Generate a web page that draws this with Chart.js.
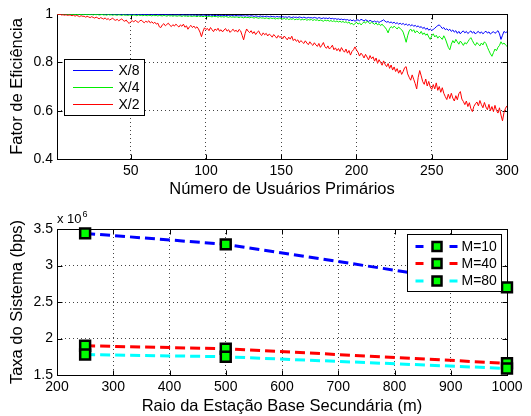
<!DOCTYPE html>
<html>
<head>
<meta charset="utf-8">
<script src="https://cdn.jsdelivr.net/npm/chart.js@4"></script>
<style>
html,body{margin:0;padding:0;background:#fff;width:531px;height:416px;overflow:hidden;}
#c1{position:absolute;left:0;top:0;}
#c2{position:absolute;left:0;top:200px;}
</style>
</head>
<body>
<canvas id="c1" width="531" height="200"></canvas>
<canvas id="c2" width="531" height="216"></canvas>
<script>
// ---------- Top chart data ----------
const users = [];
for (let i = 1; i <= 300; i++) users.push(i);

const effX8 = [
1.000,1.000,1.000,0.999,1.000,1.000,0.999,1.000,1.000,0.999,
1.000,0.999,1.000,1.000,0.999,1.000,0.999,0.999,1.000,0.999,
0.999,1.000,0.999,0.999,1.000,0.999,0.998,0.999,1.000,0.999,
0.998,0.999,0.999,0.998,0.999,0.998,0.999,0.999,0.998,0.999,
0.998,0.999,0.998,0.998,0.999,0.998,0.997,0.999,0.998,0.998,
0.997,0.998,0.998,0.997,0.999,0.997,0.998,0.997,0.998,0.997,
0.998,0.997,0.996,0.998,0.997,0.997,0.996,0.998,0.997,0.996,
0.997,0.996,0.998,0.996,0.997,0.996,0.997,0.995,0.997,0.996,
0.996,0.997,0.995,0.996,0.997,0.995,0.996,0.995,0.997,0.995,
0.996,0.995,0.996,0.994,0.996,0.995,0.994,0.996,0.995,0.994,
0.995,0.994,0.996,0.994,0.995,0.993,0.995,0.994,0.993,0.995,
0.994,0.993,0.995,0.993,0.994,0.992,0.994,0.993,0.992,0.994,
0.993,0.992,0.994,0.992,0.993,0.991,0.993,0.992,0.991,0.993,
0.992,0.990,0.992,0.991,0.989,0.992,0.990,0.991,0.989,0.991,
0.990,0.988,0.991,0.989,0.990,0.987,0.990,0.988,0.989,0.987,
0.989,0.987,0.988,0.986,0.989,0.987,0.985,0.988,0.986,0.987,
0.985,0.988,0.986,0.984,0.987,0.985,0.983,0.986,0.984,0.985,
0.983,0.986,0.984,0.982,0.985,0.983,0.981,0.984,0.982,0.983,
0.981,0.984,0.980,0.982,0.979,0.981,0.978,0.980,0.977,0.979,
0.976,0.978,0.975,0.977,0.973,0.976,0.972,0.975,0.970,0.974,
0.976,0.972,0.978,0.975,0.971,0.976,0.973,0.969,0.974,0.970,
0.967,0.971,0.966,0.970,0.965,0.969,0.972,0.976,0.970,0.966,
0.969,0.964,0.967,0.962,0.966,0.960,0.964,0.958,0.962,0.957,
0.961,0.955,0.959,0.953,0.957,0.951,0.956,0.949,0.953,0.947,
0.951,0.944,0.948,0.940,0.945,0.936,0.942,0.933,0.938,0.932,
0.936,0.941,0.947,0.952,0.955,0.948,0.940,0.944,0.935,0.939,
0.932,0.937,0.928,0.934,0.925,0.931,0.920,0.928,0.918,0.926,
0.930,0.922,0.928,0.919,0.925,0.930,0.921,0.927,0.917,0.924,
0.928,0.920,0.926,0.918,0.924,0.929,0.921,0.926,0.917,0.923,
0.927,0.920,0.925,0.931,0.918,0.895,0.912,0.928,0.923,0.926
];

const effX4 = [
1.000,1.000,0.999,1.000,0.999,0.999,1.000,0.998,0.999,0.999,
0.998,0.999,0.998,0.999,0.997,0.999,0.998,0.997,0.999,0.998,
0.997,0.998,0.997,0.999,0.996,0.998,0.997,0.998,0.996,0.997,
0.998,0.996,0.997,0.995,0.998,0.996,0.997,0.995,0.997,0.996,
0.995,0.997,0.996,0.994,0.997,0.995,0.996,0.994,0.996,0.995,
0.994,0.996,0.995,0.993,0.996,0.994,0.995,0.993,0.995,0.994,
0.993,0.995,0.994,0.992,0.995,0.993,0.994,0.992,0.994,0.993,
0.992,0.994,0.993,0.991,0.994,0.992,0.993,0.991,0.993,0.992,
0.991,0.993,0.992,0.990,0.993,0.991,0.992,0.990,0.992,0.991,
0.990,0.992,0.991,0.989,0.992,0.990,0.991,0.989,0.991,0.990,
0.989,0.991,0.990,0.988,0.991,0.989,0.990,0.987,0.990,0.988,
0.989,0.987,0.990,0.988,0.986,0.989,0.987,0.988,0.986,0.988,
0.987,0.985,0.988,0.986,0.984,0.987,0.985,0.986,0.984,0.987,
0.985,0.983,0.986,0.984,0.982,0.985,0.983,0.984,0.981,0.984,
0.982,0.980,0.984,0.981,0.983,0.979,0.982,0.980,0.983,0.981,
0.979,0.982,0.978,0.981,0.977,0.980,0.978,0.981,0.976,0.979,
0.977,0.980,0.975,0.978,0.976,0.979,0.974,0.977,0.975,0.978,
0.973,0.977,0.974,0.976,0.972,0.975,0.973,0.970,0.975,0.972,
0.974,0.970,0.973,0.969,0.972,0.968,0.971,0.967,0.970,0.966,
0.969,0.965,0.968,0.963,0.967,0.958,0.962,0.955,0.960,0.966,
0.958,0.963,0.955,0.961,0.968,0.962,0.970,0.965,0.960,0.966,
0.962,0.957,0.963,0.955,0.960,0.952,0.958,0.950,0.945,0.935,
0.922,0.940,0.948,0.942,0.950,0.944,0.938,0.946,0.940,0.935,
0.925,0.905,0.883,0.910,0.930,0.938,0.928,0.935,0.922,0.930,
0.925,0.918,0.928,0.915,0.922,0.912,0.918,0.905,0.895,0.910,
0.918,0.905,0.912,0.900,0.908,0.902,0.895,0.910,0.898,0.880,
0.862,0.852,0.875,0.890,0.880,0.895,0.885,0.875,0.888,0.880,
0.870,0.882,0.876,0.885,0.895,0.902,0.890,0.878,0.870,0.882,
0.875,0.868,0.880,0.872,0.885,0.878,0.862,0.848,0.835,0.825,
0.840,0.855,0.848,0.862,0.870,0.885,0.875,0.880,0.872,0.866
];

const effX2 = [
1.000,0.998,0.999,0.996,0.997,0.995,0.997,0.994,0.996,0.995,
0.993,0.995,0.991,0.994,0.992,0.989,0.993,0.990,0.991,0.987,
0.990,0.988,0.985,0.989,0.986,0.983,0.987,0.984,0.980,0.985,
0.982,0.979,0.984,0.977,0.981,0.975,0.979,0.983,0.976,0.974,
0.978,0.972,0.976,0.980,0.973,0.970,0.975,0.966,0.961,0.968,
0.972,0.967,0.974,0.969,0.965,0.971,0.975,0.968,0.964,0.970,
0.966,0.972,0.963,0.968,0.961,0.966,0.958,0.962,0.947,0.944,
0.955,0.960,0.951,0.957,0.962,0.953,0.948,0.956,0.950,0.958,
0.952,0.946,0.955,0.949,0.958,0.945,0.951,0.937,0.947,0.953,
0.944,0.950,0.941,0.947,0.938,0.925,0.906,0.928,0.943,0.936,
0.940,0.931,0.944,0.935,0.927,0.938,0.932,0.941,0.929,0.935,
0.926,0.934,0.940,0.929,0.935,0.924,0.931,0.937,0.928,0.933,
0.925,0.936,0.930,0.912,0.893,0.920,0.938,0.929,0.923,0.931,
0.919,0.927,0.915,0.924,0.930,0.917,0.911,0.922,0.914,0.920,
0.909,0.917,0.912,0.904,0.915,0.908,0.900,0.911,0.903,0.907,
0.898,0.909,0.901,0.893,0.904,0.896,0.908,0.890,0.897,0.887,
0.893,0.881,0.890,0.884,0.878,0.889,0.880,0.873,0.885,0.876,
0.870,0.881,0.872,0.866,0.878,0.862,0.871,0.882,0.865,0.858,
0.868,0.855,0.862,0.871,0.852,0.860,0.848,0.857,0.845,0.861,
0.850,0.842,0.855,0.838,0.849,0.830,0.845,0.852,0.864,0.851,
0.842,0.826,0.838,0.830,0.818,0.833,0.822,0.810,0.828,0.815,
0.823,0.805,0.818,0.796,0.811,0.800,0.788,0.806,0.792,0.782,
0.795,0.775,0.789,0.768,0.781,0.762,0.774,0.755,0.768,0.750,
0.762,0.778,0.782,0.752,0.738,0.726,0.748,0.730,0.712,0.690,
0.738,0.766,0.744,0.720,0.709,0.731,0.702,0.721,0.698,0.688,
0.708,0.690,0.715,0.684,0.700,0.676,0.695,0.672,0.658,0.646,
0.668,0.650,0.672,0.652,0.640,0.662,0.645,0.670,0.679,0.648,
0.638,0.625,0.640,0.617,0.633,0.608,0.596,0.618,0.628,0.636,
0.620,0.642,0.625,0.612,0.634,0.615,0.604,0.626,0.600,0.617,
0.596,0.622,0.601,0.590,0.612,0.582,0.558,0.592,0.610,0.620
];

const topSeriesLabels = ['X/8', 'X/4', 'X/2'];
const topXTicks = [50, 100, 150, 200, 250, 300];
const topYTicks = [0.4, 0.6, 0.8, 1];
const topXTitle = 'Número de Usuários Primários';
const topYTitle = 'Fator de Eficiência';

// ---------- Bottom chart data (rates in units of 10^6 bps) ----------
const radius = [250, 500, 1000];
const rateM10 = [3.44, 3.29, 2.70];
const rateM40 = [1.90, 1.86, 1.66];
const rateM80 = [1.78, 1.75, 1.59];
const botSeriesLabels = ['M=10', 'M=40', 'M=80'];
const botXTicks = [200, 300, 400, 500, 600, 700, 800, 900, 1000];
const botYTicks = [1.5, 2, 2.5, 3, 3.5];
const botXTitle = 'Raio da Estação Base Secundária (m)';
const botYTitle = 'Taxa do Sistema (bps)';
const botExponent = ['x 10', '6'];

// ---------- Styling ----------
const FONT = "'Liberation Sans', Arial, Helvetica, sans-serif";
Chart.defaults.font.family = FONT;
Chart.defaults.color = '#000';

const matlabFrame = {
  id: 'matlabFrame',
  beforeDatasetsDraw(chart) {
    const {ctx, chartArea: a, scales} = chart;
    const L = Math.round(a.left) + 0.5, R = Math.round(a.right) + 0.5;
    const T = Math.round(a.top) + 0.5, B = Math.round(a.bottom) + 0.5;
    ctx.save();
    ctx.strokeStyle = '#000';
    ctx.lineWidth = 1;
    ctx.setLineDash([]);
    ctx.strokeRect(L, T, R - L, B - T);
    const tl = 5;
    ctx.beginPath();
    scales.x.ticks.forEach(t => {
      const px = Math.round(scales.x.getPixelForValue(t.value)) + 0.5;
      ctx.moveTo(px, B); ctx.lineTo(px, B - tl);
      ctx.moveTo(px, T); ctx.lineTo(px, T + tl);
    });
    scales.y.ticks.forEach(t => {
      const py = Math.round(scales.y.getPixelForValue(t.value)) + 0.5;
      ctx.moveTo(L, py); ctx.lineTo(L + tl, py);
      ctx.moveTo(R, py); ctx.lineTo(R - tl, py);
    });
    ctx.stroke();
    ctx.restore();
  },
  afterDatasetsDraw(chart, args, opts) {
    const {ctx} = chart;
    const lg = opts.legend;
    if (lg) {
      ctx.save();
      ctx.fillStyle = '#fff';
      ctx.fillRect(lg.x, lg.y, lg.w, lg.h);
      ctx.strokeStyle = '#000';
      ctx.lineWidth = 1;
      ctx.setLineDash([]);
      ctx.strokeRect(lg.x, lg.y, lg.w, lg.h);
      ctx.font = lg.fontSize + 'px ' + FONT;
      ctx.textBaseline = 'middle';
      ctx.textAlign = 'left';
      chart.data.datasets.forEach((ds, i) => {
        const y = lg.rows[i];
        ctx.strokeStyle = ds.borderColor;
        ctx.lineWidth = ds.borderWidth;
        ctx.beginPath();
        if (lg.marker) {
          ctx.moveTo(lg.x + lg.segs[0][0], y); ctx.lineTo(lg.x + lg.segs[0][1], y);
          ctx.moveTo(lg.x + lg.segs[1][0], y); ctx.lineTo(lg.x + lg.segs[1][1], y);
          ctx.stroke();
          const s = lg.markerSize;
          const mx = lg.x + lg.markerX;
          ctx.fillStyle = ds.pointBackgroundColor;
          ctx.fillRect(mx - s / 2, y - s / 2, s, s);
          ctx.strokeStyle = ds.pointBorderColor;
          ctx.lineWidth = ds.pointBorderWidth;
          ctx.strokeRect(mx - s / 2, y - s / 2, s, s);
        } else {
          ctx.moveTo(lg.x + lg.line[0], y); ctx.lineTo(lg.x + lg.line[1], y);
          ctx.stroke();
        }
        ctx.fillStyle = '#000';
        ctx.fillText(ds.label, lg.x + lg.textX, y + 0.5);
      });
      ctx.restore();
    }
    const ex = opts.exponent;
    if (ex) {
      ctx.save();
      ctx.fillStyle = '#000';
      ctx.textBaseline = 'alphabetic';
      ctx.textAlign = 'left';
      ctx.font = ex.size + 'px ' + FONT;
      ctx.fillText(ex.text[0], ex.x, ex.y);
      const w = ctx.measureText(ex.text[0]).width;
      ctx.font = ex.supSize + 'px ' + FONT;
      ctx.fillText(ex.text[1], ex.x + w + 1, ex.y - 6);
      ctx.restore();
    }
  }
};

function axisCommon(title, ticksArr, fitKey, fitVal, titlePad, tickPad) {
  return {
    afterBuildTicks: s => { s.ticks = ticksArr.map(v => ({value: v})); },
    afterFit: s => { s[fitKey] = fitVal; },
    grid: {color: '#444', lineWidth: 1, drawTicks: false},
    border: {display: false, dash: [1, 3]},
    ticks: {font: {size: 14}, color: '#000', padding: tickPad, autoSkip: false, maxRotation: 0,
            callback: v => String(v)},
    title: {display: true, text: title, font: {size: 16.5}, color: '#000', padding: titlePad}
  };
}

// ---------- Top chart ----------
const topColors = ['#0000ff', '#00ee00', '#ff0000'];
const topData = [effX8, effX4, effX2];
new Chart(document.getElementById('c1'), {
  type: 'line',
  data: {
    datasets: topData.map((arr, k) => ({
      label: topSeriesLabels[k],
      data: users.map((u, i) => ({x: u, y: arr[i]})),
      borderColor: topColors[k],
      borderWidth: 1,
      pointRadius: 0,
      tension: 0,
      fill: false,
      order: 3 - k
    }))
  },
  options: {
    responsive: false,
    animation: false,
    events: [],
    layout: {padding: {top: 14, right: 24, left: 0, bottom: 0}},
    plugins: {
      legend: {display: false},
      tooltip: {enabled: false},
      matlabFrame: {
        legend: {x: 64.5, y: 59.5, w: 80, h: 56, fontSize: 14, rows: [70.5, 87.5, 104.5],
                 line: [8.5, 48.5], textX: 54}
      }
    },
    scales: {
      x: Object.assign({type: 'linear', min: 1, max: 300},
        axisCommon(topXTitle, topXTicks, 'height', 41, {top: 0, bottom: 1}, 4)),
      y: Object.assign({type: 'linear', min: 0.4, max: 1},
        axisCommon(topYTitle, topYTicks, 'width', 57, {top: 8, bottom: 0}, 4))
    }
  },
  plugins: [matlabFrame]
});

// ---------- Bottom chart ----------
const botColors = ['#0000ff', '#ff0000', '#00ffff'];
const botData = [rateM10, rateM40, rateM80];
new Chart(document.getElementById('c2'), {
  type: 'line',
  data: {
    datasets: botData.map((arr, k) => ({
      label: botSeriesLabels[k],
      data: radius.map((r, i) => ({x: r, y: arr[i]})),
      borderColor: botColors[k],
      borderWidth: 3,
      borderDash: [10, 5],
      pointStyle: 'rect',
      pointRadius: 7,
      pointBackgroundColor: '#00ff00',
      pointBorderColor: '#000',
      pointBorderWidth: 2.5,
      tension: 0,
      fill: false,
      clip: false,
      order: 3 - k
    }))
  },
  options: {
    responsive: false,
    animation: false,
    events: [],
    layout: {padding: {top: 29, right: 24, left: 0, bottom: 0}},
    plugins: {
      legend: {display: false},
      tooltip: {enabled: false},
      matlabFrame: {
        legend: {x: 407.5, y: 34.5, w: 94, h: 57, fontSize: 14, rows: [46.5, 63.5, 81],
                 marker: true, segs: [[8, 16], [42, 50]], markerX: 29.5, markerSize: 9, textX: 54},
        exponent: {text: botExponent, x: 57, y: 23, size: 13, supSize: 9}
      }
    },
    scales: {
      x: Object.assign({type: 'linear', min: 200, max: 1000},
        axisCommon(botXTitle, botXTicks, 'height', 41, {top: 0, bottom: 0}, 4)),
      y: Object.assign({type: 'linear', min: 1.5, max: 3.5},
        axisCommon(botYTitle, botYTicks, 'width', 57, {top: 8, bottom: 0}, 4))
    }
  },
  plugins: [matlabFrame]
});
</script>
</body>
</html>
